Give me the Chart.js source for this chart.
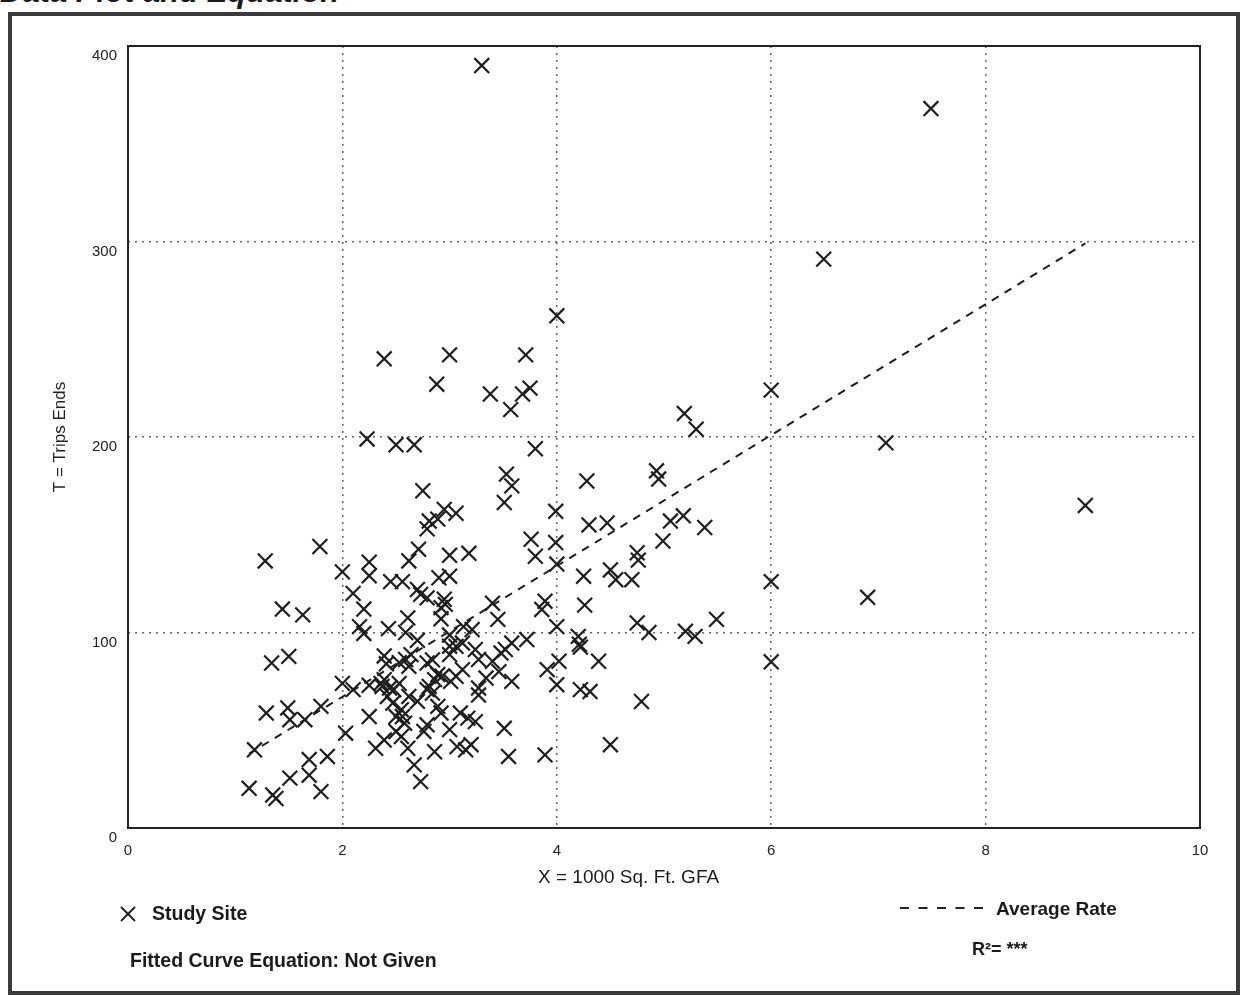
<!DOCTYPE html>
<html>
<head>
<meta charset="utf-8">
<script src="https://cdn.jsdelivr.net/npm/chart.js@4.4.1/dist/chart.umd.min.js"></script>
<style>
  html, body { margin: 0; padding: 0; background: #fff; width: 1243px; height: 996px; overflow: hidden; position: relative; font-family: "Liberation Sans", Arial, sans-serif; color: #1a1a1a; }
  #frame { position: absolute; left: 8px; top: 12px; width: 1232px; height: 983px; border: 4px solid #3a3a3a; box-sizing: border-box; }
  #title { position: absolute; left: 0px; top: -24px; font: italic bold 31px "Liberation Sans", Arial, sans-serif; line-height: 31px; white-space: nowrap; }
  #wrap { position: absolute; left: 0; top: 0; width: 1243px; height: 996px; }
  .txt { position: absolute; white-space: nowrap; line-height: 1; }
  .bold { font-weight: bold; }
</style>
</head>
<body>
<div id="frame"></div>
<div id="title">Data Plot and Equation</div>
<div id="wrap"><canvas id="c"></canvas></div>

<div class="txt" style="left:538px; top:867px; font-size:19px;">X = 1000 Sq. Ft. GFA</div>

<svg style="position:absolute; left:120px; top:906px;" width="16" height="16">
  <line x1="1" y1="1" x2="15" y2="15" stroke="#222" stroke-width="2"/>
  <line x1="15" y1="1" x2="1" y2="15" stroke="#222" stroke-width="2"/>
</svg>
<div class="txt bold" style="left:152px; top:904px; font-size:19.5px;">Study Site</div>
<div class="txt bold" style="left:130px; top:951px; font-size:19.5px;">Fitted Curve Equation: Not Given</div>

<svg style="position:absolute; left:900px; top:904px;" width="90" height="8">
  <line x1="0" y1="4" x2="84" y2="4" stroke="#222" stroke-width="2.2" stroke-dasharray="9 9.5"/>
</svg>
<div class="txt bold" style="left:996px; top:899px; font-size:19px;">Average Rate</div>
<div class="txt bold" style="left:972px; top:940px; font-size:18px;">R²= ***</div>

<script>
// Study site observations (X = 1000 Sq. Ft. GFA, T = trip ends)
const siteX = [
  3.30, 7.49, 6.49, 4.00, 2.39, 3.00, 3.71, 2.88, 3.38, 3.68, 3.75, 3.57, 6.00, 2.23, 2.50, 2.67,
  3.80, 5.19, 5.30, 7.07, 8.93, 6.90, 6.00, 6.00, 3.53, 3.58, 3.51, 3.99, 4.28, 4.93, 4.95, 2.75,
  2.95, 3.06, 2.89, 2.81, 2.79, 4.30, 4.47, 5.06, 5.18, 5.38, 4.99, 3.76, 3.99, 3.80, 4.00, 4.75,
  4.76, 4.50, 4.55, 4.70, 4.25, 4.26, 3.89, 3.86, 3.40, 3.45, 4.00, 4.20, 4.21, 4.22, 4.75, 4.86,
  5.20, 5.29, 5.49, 4.39, 4.02, 3.91, 4.00, 4.22, 4.31, 4.79, 4.50, 3.89, 3.55, 3.51, 3.58, 1.28,
  1.79, 2.00, 2.25, 2.25, 2.71, 2.62, 2.45, 2.56, 2.70, 2.73, 2.10, 2.20, 1.44, 1.63, 2.61, 2.16,
  2.20, 2.43, 2.59, 2.70, 1.34, 1.50, 2.39, 2.41, 2.53, 2.64, 2.62, 2.00, 2.25, 2.36, 2.53, 3.00,
  3.18, 2.90, 3.00, 2.79, 2.95, 2.92, 2.96, 2.92, 3.21, 3.13, 3.72, 3.58, 3.52, 3.48, 3.00, 3.24,
  3.27, 2.84, 3.40, 3.46, 3.34, 3.27, 3.27, 3.12, 3.06, 3.01, 2.89, 2.86, 2.79, 2.70, 2.89, 2.92,
  3.10, 3.17, 3.24, 2.79, 2.76, 3.00, 2.58, 2.50, 2.55, 2.39, 2.61, 2.86, 3.07, 3.15, 3.20, 2.67,
  2.73, 2.48, 2.42, 2.37, 2.47, 2.10, 1.29, 1.49, 1.51, 1.65, 1.80, 2.03, 2.25, 1.18, 1.69, 1.69,
  1.86, 1.51, 1.13, 1.35, 1.38, 1.80, 2.31, 2.50, 2.56, 3.00, 3.12, 2.59, 2.79, 3.00, 3.06, 2.39,
  2.44, 2.55, 2.62, 2.81, 2.84, 2.93
];
const siteY = [
  390, 368, 291, 262, 240, 242, 242, 227, 222, 222, 225, 214, 224, 199, 196, 196,
  194, 212, 204, 197, 165, 118, 126, 85, 181, 175, 166.5, 162, 177.5, 182.7, 178.5, 172.5,
  163, 161, 158, 157, 153, 155, 156, 157, 159.7, 153.7, 146.8, 147.7, 146, 139, 135, 140.8,
  137, 132, 127, 127, 128.8, 114, 116, 111.8, 115, 106.7, 103, 98, 94, 92.5, 104.9, 100,
  100.6, 98, 106.7, 85.3, 85.3, 81, 73.3, 70.8, 69.8, 64.7, 42.6, 37.4, 36.6, 51, 75, 136.6,
  144, 131, 136, 129, 142.6, 136.6, 126, 126, 122, 119.5, 120, 112, 112, 109, 107.5, 103,
  99.5, 102, 100, 96, 84.4, 87.8, 88, 84, 84.6, 88.7, 82.7, 74, 73, 74, 74, 139.5,
  140.5, 128, 128.8, 117.7, 117, 112.7, 114.4, 107, 101.5, 103, 96.4, 94.6, 91.3, 89.5, 93, 91.3,
  86.2, 86, 85.3, 80, 76.7, 71.6, 68, 81, 77.6, 75, 78.5, 75.9, 70.8, 64.8, 62.2, 58.8,
  58.8, 56.2, 54.4, 52.8, 49.4, 50.3, 53.6, 49.4, 46.8, 45, 40.8, 39, 41.6, 40, 42.6, 32.3,
  23.7, 70.8, 67.3, 72.4, 63.9, 70.8, 58.8, 61.4, 55.4, 55.4, 62.2, 48.5, 57, 40, 35, 27,
  36.6, 25.5, 20.3, 16.9, 15.1, 18.6, 40.8, 57, 57, 98.7, 94.6, 86.2, 84.4, 88.7, 92.9, 75.9,
  71.6, 60.5, 67.3, 72.4, 69, 77.6
];
// Average rate line end points
const avgRateX = [1.13, 8.93];
const avgRateY = [38, 299];
// Axis ticks
const xTicks = [0, 2, 4, 6, 8, 10];
const yTicks = [0, 100, 200, 300, 400];

const sitePoints = siteX.map((x, i) => ({ x: x, y: siteY[i] }));
const ratePoints = avgRateX.map((x, i) => ({ x: x, y: avgRateY[i] }));

const framePlugin = {
  id: 'plotFrame',
  afterDraw(chart) {
    const a = chart.chartArea, ctx = chart.ctx;
    ctx.save();
    ctx.strokeStyle = '#222';
    ctx.lineWidth = 2;
    ctx.setLineDash([]);
    ctx.strokeRect(a.left, a.top, a.right - a.left, a.bottom - a.top);
    ctx.restore();
  }
};

const gridColor = (edgeVals) => (c) => (c.tick && edgeVals.includes(c.tick.value)) ? 'rgba(0,0,0,0)' : '#666';

new Chart(document.getElementById('c'), {
  type: 'scatter',
  data: {
    datasets: [
      {
        label: 'Study Site',
        data: sitePoints,
        pointStyle: 'crossRot',
        pointRadius: 10.5,
        pointHoverRadius: 10.5,
        borderColor: '#1e1e1e',
        backgroundColor: '#1e1e1e',
        pointBorderWidth: 2.2,
        borderWidth: 2.2,
        order: 2
      },
      {
        label: 'Average Rate',
        type: 'line',
        data: ratePoints,
        showLine: true,
        borderColor: '#1e1e1e',
        borderWidth: 2,
        borderDash: [8, 7],
        pointRadius: 0,
        fill: false,
        order: 1
      }
    ]
  },
  options: {
    responsive: true,
    maintainAspectRatio: false,
    animation: false,
    events: [],
    layout: { padding: { left: 0, top: 46, right: 43, bottom: 128 } },
    plugins: { legend: { display: false }, tooltip: { enabled: false } },
    scales: {
      x: {
        type: 'linear',
        min: 0, max: 10,
        afterBuildTicks: (s) => { s.ticks = xTicks.map(v => ({ value: v })); },
        afterFit: (s) => { s.height = 40; },
        ticks: { color: '#222', padding: 14, font: { family: 'Liberation Sans', size: 15 } },
        grid: { color: gridColor([0, 10]), lineWidth: 1.5, drawTicks: false },
        border: { display: false, dash: [2, 5] },
        title: { display: false }
      },
      y: {
        type: 'linear',
        min: 0, max: 400,
        afterBuildTicks: (s) => { s.ticks = yTicks.map(v => ({ value: v })); },
        afterFit: (s) => { s.width = 128; },
        ticks: { color: '#222', padding: 11, labelOffset: 10, font: { family: 'Liberation Sans', size: 15 } },
        grid: { color: gridColor([0, 400]), lineWidth: 1.5, drawTicks: false },
        border: { display: false, dash: [2, 5] },
        title: {
          display: true,
          text: 'T = Trips Ends',
          color: '#222',
          font: { family: 'Liberation Sans', size: 17 },
          padding: { top: 50, bottom: 0 }
        }
      }
    }
  },
  plugins: [framePlugin]
});
</script>
</body>
</html>
